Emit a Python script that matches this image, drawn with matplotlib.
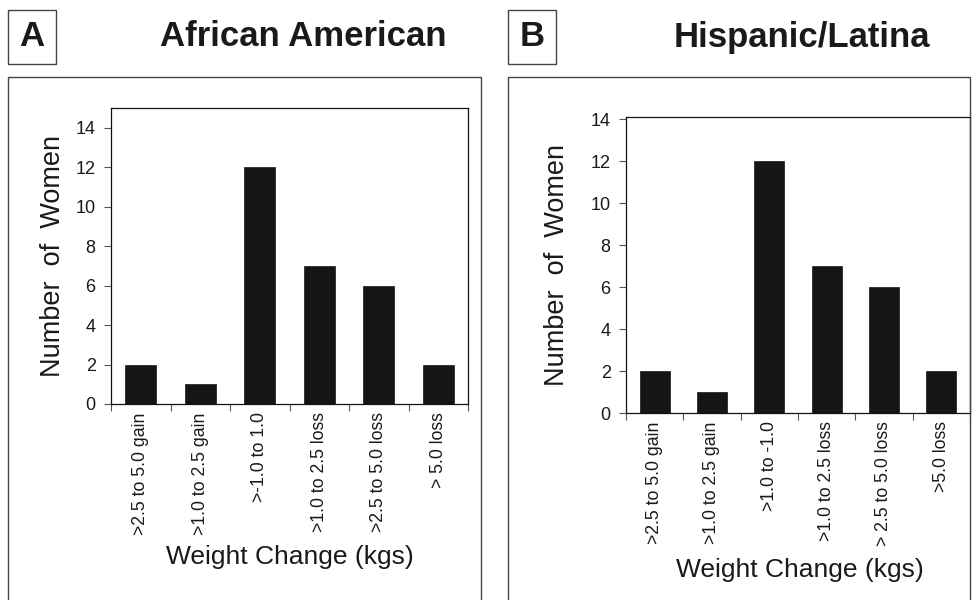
import matplotlib
matplotlib.use("Agg")
import matplotlib.pyplot as plt
from matplotlib.patches import Rectangle

plt.rcParams["font.family"] = ["Liberation Sans", "DejaVu Sans"]

# data
labels_aa = [">2.5 to 5.0 gain", ">1.0 to 2.5 gain", ">-1.0 to 1.0",
             ">1.0 to 2.5 loss", ">2.5 to 5.0 loss", "> 5.0 loss"]
labels_hl = [">2.5 to 5.0 gain", ">1.0 to 2.5 gain", ">1.0 to -1.0",
             ">1.0 to 2.5 loss", "> 2.5 to 5.0 loss", ">5.0 loss"]
counts_aa = [2, 1, 12, 7, 6, 2]
counts_hl = [2, 1, 12, 7, 6, 2]
yticks = [0, 2, 4, 6, 8, 10, 12, 14]

W, H = 973, 600
TEXT = "#1a1a1a"
BAR = "#151515"
BOX = "#444444"


def px(x0, y0, x1, y1):
    # pixel box (top-left origin) -> figure fraction rect
    return [x0 / W, (H - y1) / H, (x1 - x0) / W, (y1 - y0) / H]


fig = plt.figure(figsize=(W / 100, H / 100), dpi=100)


def panel(rect, counts, labels, ymax, letter, letter_box, title, title_x, outer, ylpad):
    # outer frame and letter box
    ox0, ox1, oy0 = outer
    fig.add_artist(Rectangle((ox0 / W, -0.01), (ox1 - ox0) / W, (H - oy0) / H + 0.01,
                             transform=fig.transFigure, fill=False,
                             edgecolor=BOX, linewidth=1.0))
    lx0, ly0, lx1, ly1 = letter_box
    fig.add_artist(Rectangle((lx0 / W, (H - ly1) / H), (lx1 - lx0) / W, (ly1 - ly0) / H,
                             transform=fig.transFigure, fill=False,
                             edgecolor=BOX, linewidth=1.0))
    fig.text((lx0 + lx1) / 2 / W, 1 - (ly0 + ly1) / 2 / H, letter,
             ha="center", va="center", fontsize=25, fontweight="bold", color=TEXT)
    fig.text(title_x / W, 1 - 37 / H, title, ha="center", va="center",
             fontsize=25, fontweight="bold", color=TEXT)

    ax = fig.add_axes(rect)
    n = len(counts)
    xs = list(range(n))
    ax.bar(xs, counts, width=0.52, color=BAR, edgecolor=BAR, linewidth=0.5)
    ax.set_xlim(-0.5, n - 0.5)
    ax.set_ylim(0, ymax)
    ax.set_yticks(yticks)
    ax.tick_params(axis="y", direction="out", length=5, width=0.8,
                   color="#555555", labelsize=13, labelcolor=TEXT, pad=6)
    # boundary ticks without labels, labels at bar centres
    ax.set_xticks([i - 0.5 for i in range(n + 1)])
    ax.set_xticklabels([])
    ax.set_xticks(xs, minor=True)
    ax.set_xticklabels(labels, minor=True, rotation=90, va="top", ha="center")
    ax.tick_params(axis="x", which="major", direction="out", length=5, width=0.8,
                   color="#555555")
    ax.tick_params(axis="x", which="minor", length=0, labelsize=12.7,
                   labelcolor=TEXT, pad=6)
    for s in ax.spines.values():
        s.set_linewidth(0.9)
        s.set_color("#111111")
    ax.set_ylabel("Number  of  Women", fontsize=19.5, color=TEXT, labelpad=ylpad)
    return ax


ax_a = panel(px(111, 108, 468, 404), counts_aa, labels_aa, 15.0, "A",
             (8, 10, 56, 64), "African American", 303, (8, 481, 77), 7)
ax_b = panel(px(626, 117, 970, 413), counts_hl, labels_hl, 14.1, "B",
             (508, 10, 556, 64), "Hispanic/Latina", 802, (508, 970, 77), 15)

fig.text(290 / W, 1 - 557 / H, "Weight Change (kgs)", ha="center", va="center",
         fontsize=19, color=TEXT)
fig.text(800 / W, 1 - 570 / H, "Weight Change (kgs)", ha="center", va="center",
         fontsize=19, color=TEXT)

fig.savefig("out.png", dpi=100)
